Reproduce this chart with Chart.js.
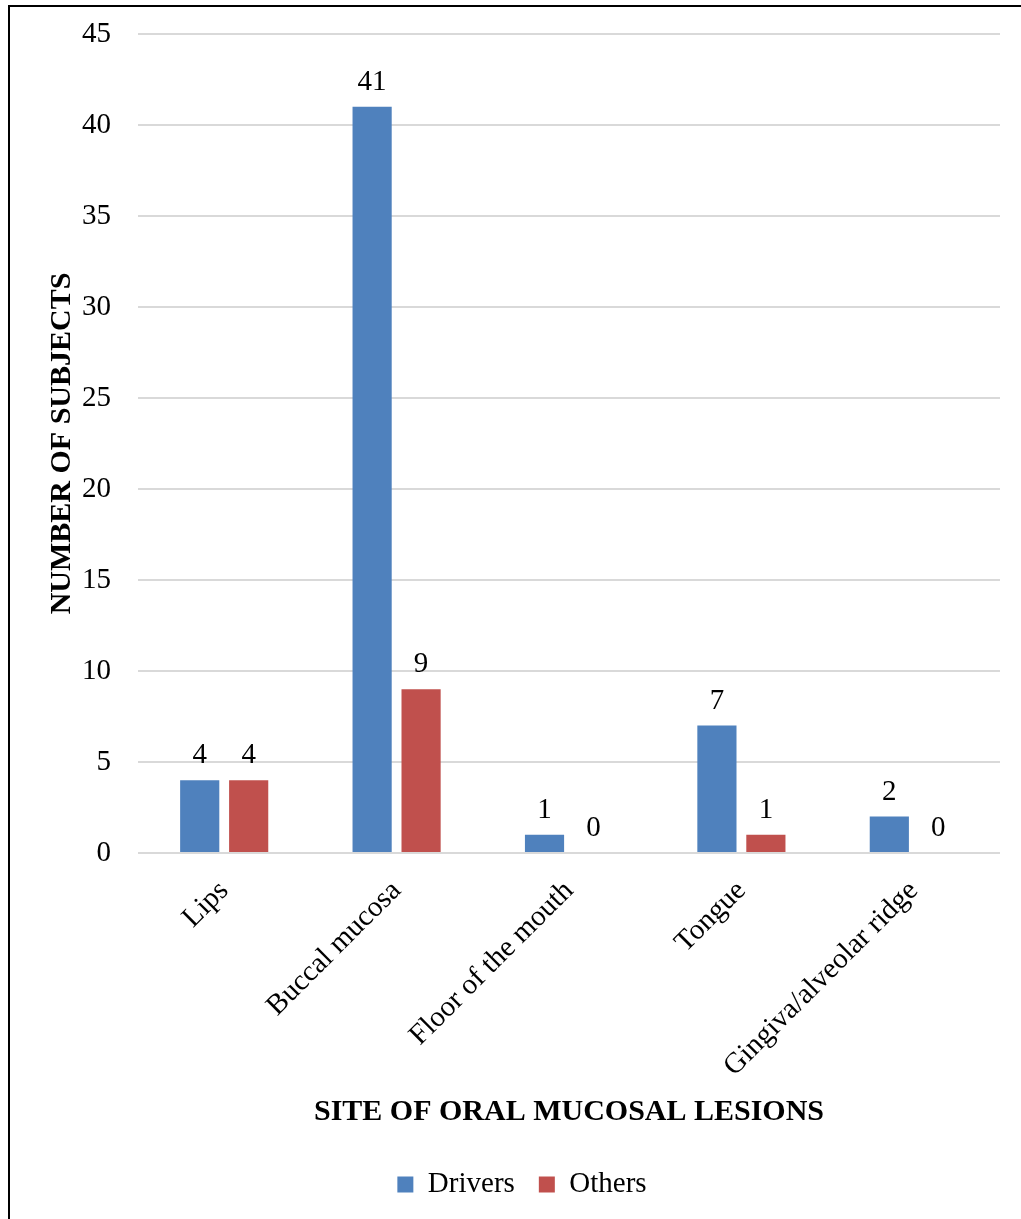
<!DOCTYPE html>
<html>
<head>
<meta charset="utf-8">
<script src="https://cdn.jsdelivr.net/npm/chart.js@4.4.1/dist/chart.umd.min.js"></script>
<style>
  html, body { margin: 0; padding: 0; background: #fff; }
  body { width: 1021px; height: 1219px; position: relative; overflow: hidden; }
  #frame {
    position: absolute; left: 8px; top: 5px; width: 1100px; height: 1300px;
    border-left: 2px solid #000; border-top: 2px solid #000;
  }
  #chart { position: absolute; left: 0; top: 0; }
</style>
</head>
<body>
<div id="frame"></div>
<canvas id="chart" width="1021" height="1219"></canvas>
<script>
const categories = ['Lips', 'Buccal mucosa', 'Floor of the mouth', 'Tongue', 'Gingiva/alveolar ridge'];
const drivers = [4, 41, 1, 7, 2];
const others = [4, 9, 0, 1, 0];
const yTicks = [0, 5, 10, 15, 20, 25, 30, 35, 40, 45];

const SERIF = '"Liberation Serif", "Times New Roman", serif';

// Writes each bar's value just above its top edge
const valueLabels = {
  id: 'valueLabels',
  afterDatasetsDraw(chart) {
    const ctx = chart.ctx;
    ctx.save();
    ctx.font = '29px ' + SERIF;
    ctx.fillStyle = '#000';
    ctx.textAlign = 'center';
    ctx.textBaseline = 'alphabetic';
    chart.data.datasets.forEach((ds, di) => {
      chart.getDatasetMeta(di).data.forEach((bar, i) => {
        ctx.fillText(String(ds.data[i]), bar.x, bar.y - 17);
      });
    });
    ctx.restore();
  }
};

new Chart(document.getElementById('chart'), {
  type: 'bar',
  data: {
    labels: categories,
    datasets: [
      { label: 'Drivers', data: drivers, backgroundColor: '#4f81bd' },
      { label: 'Others', data: others, backgroundColor: '#c0504d' }
    ]
  },
  options: {
    responsive: false,
    animation: false,
    devicePixelRatio: 1,
    categoryPercentage: 0.568,
    barPercentage: 0.8,
    layout: { padding: { left: 44, right: 21, top: 34, bottom: 10 } },
    plugins: {
      legend: {
        position: 'bottom',
        labels: {
          font: { family: SERIF, size: 29 },
          color: '#000',
          boxWidth: 16,
          boxHeight: 16,
          padding: 24
        }
      },
      tooltip: { enabled: false }
    },
    scales: {
      x: {
        grid: { display: false, drawTicks: false },
        border: { display: false },
        ticks: {
          font: { family: SERIF, size: 29 },
          color: '#000',
          minRotation: 45,
          maxRotation: 45,
          padding: 21,
          autoSkip: false
        },
        title: {
          display: true,
          text: 'SITE OF ORAL MUCOSAL LESIONS',
          font: { family: SERIF, size: 30, weight: 'bold' },
          color: '#000',
          padding: { top: 0, bottom: 16 }
        },
        afterFit(scale) { scale.height = 293; }
      },
      y: {
        min: 0,
        max: 45,
        afterBuildTicks(scale) { scale.ticks = yTicks.map(v => ({ value: v })); },
        grid: { color: '#d9d9d9', lineWidth: 2, drawTicks: false },
        border: { display: false },
        ticks: {
          font: { family: SERIF, size: 29 },
          color: '#000',
          padding: 27
        },
        title: {
          display: true,
          text: 'NUMBER OF SUBJECTS',
          font: { family: SERIF, size: 30, weight: 'bold' },
          color: '#000',
          padding: { top: 0, bottom: 0 }
        },
        afterFit(scale) {
          scale.width = 94;
          scale.paddingTop = 0;
          scale.paddingBottom = 0;
        }
      }
    }
  },
  plugins: [valueLabels]
});
</script>
</body>
</html>
